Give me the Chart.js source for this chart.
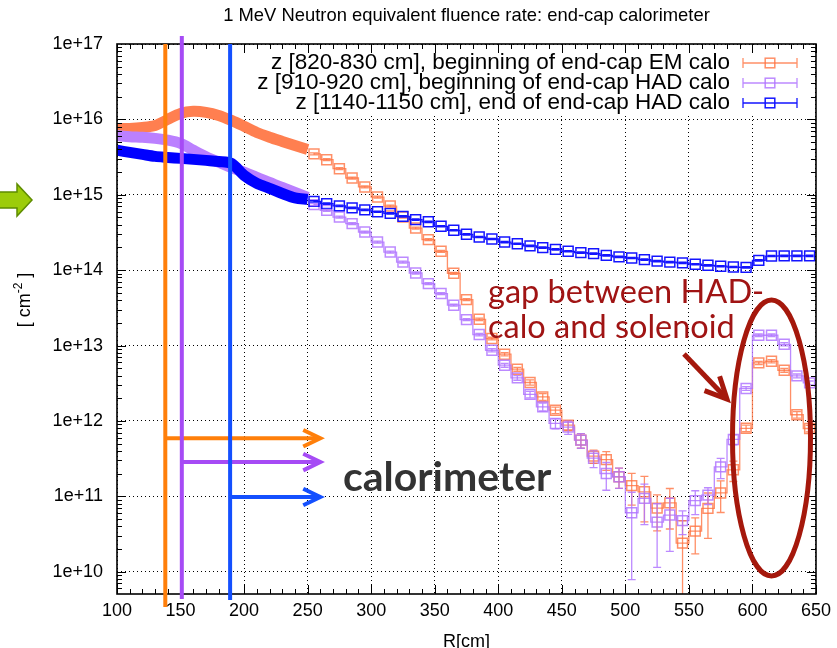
<!DOCTYPE html>
<html>
<head>
<meta charset="utf-8">
<script src="https://cdn.jsdelivr.net/npm/chart.js@4.4.0/dist/chart.umd.min.js"></script>
<style>
  html, body { margin: 0; padding: 0; background: #fff; }
</style>
</head>
<body>
<canvas id="c" width="837" height="648"></canvas>
<script>
// fine-binned region (drawn as a thick band), R in cm
const thickR = [100, 110, 120, 130, 140, 150, 160, 170, 180, 190, 200, 210, 220, 230, 240, 250];
const emThick  = [7.6e15, 7.6e15, 7.8e15, 8.3e15, 1.0e16, 1.2e16, 1.28e16, 1.24e16, 1.13e16, 9.7e15, 8.1e15, 6.7e15, 5.8e15, 5.1e15, 4.5e15, 4.0e15];
const hadThick = [6.1e15, 5.9e15, 5.8e15, 5.6e15, 5.3e15, 4.8e15, 3.9e15, 3.2e15, 2.7e15, 2.3e15, 2.0e15, 1.7e15, 1.46e15, 1.25e15, 1.08e15, 9.25e14];
const endThick = [3.9e15, 3.65e15, 3.43e15, 3.23e15, 3.13e15, 3.04e15, 2.95e15, 2.86e15, 2.77e15, 2.61e15, 1.81e15, 1.42e15, 1.22e15, 1.04e15, 9.1e14, 8.7e14];

// 10 cm histogram bins, bin centres
const binR = [255, 265, 275, 285, 295, 305, 315, 325, 335, 345,
              355, 365, 375, 385, 395, 405, 415, 425, 435, 445,
              455, 465, 475, 485, 495, 505, 515, 525, 535, 545,
              555, 565, 575, 585, 595, 605, 615, 625, 635, 645];
const emHist = [3.49e15, 2.92e15, 2.22e15, 1.67e15, 1.27e15, 9.33e14, 7.09e14, 5.07e14, 3.62e14, 2.54e14,
                1.78e14, 9.1e13, 4.07e13, 2.23e13, 1.24e13, 7.68e12, 4.86e12, 3.24e12, 2.09e12, 1.39e12,
                8.8e11, 5.57e11, 3.42e11, 3.07e11, 1.82e11, 1.39e11, 1.15e11, 6.99e10, 8.2e10, 2.4e10,
                3.46e10, 6.93e10, 1.11e11, 2.25e11, 8.0e11, 5.89e12, 6.2e12, 4.71e12, 1.21e12, 7.95e11];
const hadHist = [7.4e14, 6.22e14, 5.07e14, 4.14e14, 3.21e14, 2.36e14, 1.74e14, 1.28e14, 9.18e13, 6.64e13,
                 4.9e13, 3.43e13, 2.21e13, 1.4e13, 8.67e12, 5.49e12, 3.73e12, 2.25e12, 1.54e12, 9.27e11,
                 8.28e11, 5.57e11, 3.21e11, 2.01e11, 1.82e11, 6.06e10, 9.4e10, 4.56e10, 5.65e10, 4.77e10,
                 8.79e10, 1.04e11, 2.46e11, 5.69e11, 2.7e12, 1.37e13, 1.37e13, 1.04e13, 3.96e12, 3.2e12];
const endHist = [8.18e14, 7.63e14, 7.13e14, 6.71e14, 6.31e14, 5.97e14, 5.67e14, 5.18e14, 4.68e14, 4.38e14,
                 3.82e14, 3.38e14, 2.99e14, 2.75e14, 2.59e14, 2.36e14, 2.24e14, 2.1e14, 1.99e14, 1.89e14,
                 1.78e14, 1.71e14, 1.66e14, 1.57e14, 1.5e14, 1.45e14, 1.38e14, 1.32e14, 1.28e14, 1.25e14,
                 1.2e14, 1.16e14, 1.13e14, 1.1e14, 1.09e14, 1.35e14, 1.54e14, 1.55e14, 1.55e14, 1.55e14];
// relative errors
const emErr = [0.03, 0.03, 0.03, 0.03, 0.03, 0.03, 0.03, 0.03, 0.03, 0.03,
               0.03, 0.03, 0.03, 0.04, 0.04, 0.05, 0.06, 0.08, 0.1, 0.1,
               0.15, 0.22, 0.2, 0.28, 0.3, 0.45, 0.6, 0.5, 0.55, 0.98,
               0.5, 0.6, 0.45, 0.3, 0.1, 0.05, 0.05, 0.06, 0.1, 0.1];
const hadErr = [0.03, 0.03, 0.03, 0.03, 0.03, 0.03, 0.03, 0.03, 0.03, 0.03,
                0.03, 0.03, 0.03, 0.04, 0.05, 0.06, 0.07, 0.1, 0.12, 0.15,
                0.2, 0.22, 0.25, 0.4, 0.3, 0.87, 0.55, 0.75, 0.67, 0.35,
                0.35, 0.25, 0.3, 0.15, 0.06, 0.04, 0.04, 0.05, 0.06, 0.06];
const endErr = [0.02, 0.02, 0.02, 0.02, 0.02, 0.02, 0.02, 0.02, 0.02, 0.02,
                0.02, 0.02, 0.02, 0.02, 0.02, 0.02, 0.02, 0.02, 0.02, 0.02,
                0.02, 0.02, 0.02, 0.02, 0.02, 0.02, 0.02, 0.02, 0.02, 0.02,
                0.02, 0.02, 0.02, 0.02, 0.02, 0.02, 0.02, 0.02, 0.02, 0.02];

const seriesNames = [
  'z [820-830 cm], beginning of end-cap EM calo',
  'z [910-920 cm], beginning of end-cap HAD calo',
  'z [1140-1150 cm], end of end-cap HAD calo'
];
const yDecades = [1e10, 1e11, 1e12, 1e13, 1e14, 1e15, 1e16, 1e17];

// calorimeter boundaries (vertical lines) and arrows
const edgeR = [138, 151, 189];
const arrowFlux = [5.9e11, 2.85e11, 9.8e10];
const arrowEndR = 260;

const histColors = ['rgba(255,115,65,0.8)', 'rgba(176,118,255,0.85)', '#1414ff'];
const thickColors = ['#ff7f50', '#bb80ff', '#0000ff'];
const edgeColors = ['#ff7f0a', '#a64bf5', '#1450ff'];

const pts = (xs, ys) => xs.map((x, i) => ({ x: x, y: ys[i] }));

function thickSet(ys, c, order) {
  return { data: pts(thickR, ys), borderColor: c, borderWidth: 11, pointRadius: 0,
           borderCapStyle: 'butt', tension: 0.3, clip: 0, order: order };
}
function histSet(ys, err, c, order) {
  return { data: pts(binR, ys), err: err, borderColor: c, borderWidth: 1.3, stepped: 'middle',
           pointStyle: 'rect', pointRadius: 7, pointBorderWidth: 1.5, pointBorderColor: c,
           pointBackgroundColor: 'rgba(0,0,0,0)', clip: 0, order: order };
}

function arrow(ctx, x1, y1, x2, y2, color, w, len) {
  const a = Math.atan2(y2 - y1, x2 - x1);
  ctx.save();
  ctx.strokeStyle = color; ctx.lineWidth = w; ctx.lineCap = 'butt'; ctx.lineJoin = 'miter';
  ctx.beginPath(); ctx.moveTo(x1, y1); ctx.lineTo(x2 - Math.cos(a) * w * 0.6, y2 - Math.sin(a) * w * 0.6); ctx.stroke();
  ctx.beginPath();
  ctx.moveTo(x2 - len * Math.cos(a - 0.45), y2 - len * Math.sin(a - 0.45));
  ctx.lineTo(x2, y2);
  ctx.lineTo(x2 - len * Math.cos(a + 0.45), y2 - len * Math.sin(a + 0.45));
  ctx.stroke();
  ctx.restore();
}

const decor = {
  id: 'decor',
  beforeDatasetsDraw(chart) {
    // opaque key box
    const { ctx, chartArea: a } = chart;
    ctx.save();
    ctx.fillStyle = '#fff';
    ctx.fillRect(238, a.top + 1, a.right - 240, 68);
    ctx.restore();
  },
  afterDatasetsDraw(chart) {
    const { ctx, chartArea: a, scales: { x, y } } = chart;
    ctx.save();
    ctx.beginPath(); ctx.rect(a.left, a.top, a.right - a.left, a.bottom - a.top); ctx.clip();
    chart.data.datasets.forEach(ds => {
      if (!ds.err) return;
      ctx.strokeStyle = ds.borderColor; ctx.lineWidth = 1.3;
      ds.data.forEach((p, i) => {
        const e = ds.err[i];
        const px = x.getPixelForValue(p.x);
        const top = y.getPixelForValue(p.y * (1 + e));
        const bot = p.y * (1 - e) > 0 ? y.getPixelForValue(p.y * (1 - e)) : a.bottom + 5;
        ctx.beginPath();
        ctx.moveTo(px, top); ctx.lineTo(px, bot);
        ctx.moveTo(px - 4, top); ctx.lineTo(px + 4, top);
        ctx.moveTo(px - 4, bot); ctx.lineTo(px + 4, bot);
        ctx.stroke();
      });
    });
    ctx.restore();
  },
  afterDraw(chart) {
    const { ctx, chartArea: a, scales: { x, y } } = chart;
    ctx.save();
    // ticks (inward, all sides)
    ctx.strokeStyle = '#000'; ctx.lineWidth = 1;
    ctx.beginPath();
    for (let r = 100; r <= 650; r += 10) {
      const px = Math.round(x.getPixelForValue(r)) + 0.5;
      const L = r % 50 === 0 ? 9 : 5;
      ctx.moveTo(px, a.bottom); ctx.lineTo(px, a.bottom - L);
      ctx.moveTo(px, a.top); ctx.lineTo(px, a.top + L);
    }
    for (let d = 9; d <= 16; d++) {
      for (let m = 1; m <= 9; m++) {
        const v = m * Math.pow(10, d);
        if (v < y.min || v > y.max) continue;
        const py = Math.round(y.getPixelForValue(v)) + 0.5;
        const L = m === 1 ? 9 : 5;
        ctx.moveTo(a.left, py); ctx.lineTo(a.left + L, py);
        ctx.moveTo(a.right, py); ctx.lineTo(a.right - L, py);
      }
    }
    ctx.stroke();
    // frame
    ctx.lineWidth = 1.6;
    ctx.strokeRect(a.left, a.top, a.right - a.left, a.bottom - a.top);

    // legend
    ctx.font = '22.5px "Liberation Sans", Arial, sans-serif';
    ctx.fillStyle = '#000'; ctx.textAlign = 'right'; ctx.textBaseline = 'middle';
    seriesNames.forEach((name, i) => {
      const ly = 63 + i * 20;
      ctx.fillText(name, 730, ly);
      ctx.strokeStyle = histColors[i]; ctx.lineWidth = 1.3;
      ctx.beginPath();
      ctx.moveTo(743, ly); ctx.lineTo(797, ly);
      ctx.moveTo(743, ly - 5); ctx.lineTo(743, ly + 5);
      ctx.moveTo(797, ly - 5); ctx.lineTo(797, ly + 5);
      ctx.stroke();
      ctx.lineWidth = 1.5;
      ctx.strokeRect(770 - 4.8, ly - 4.8, 9.6, 9.6);
    });

    // title
    ctx.textAlign = 'center'; ctx.textBaseline = 'alphabetic';
    ctx.font = '18.4px "Liberation Sans", Arial, sans-serif';
    ctx.fillText('1 MeV Neutron equivalent fluence rate: end-cap calorimeter', (a.left + a.right) / 2, 21);
    // x title
    ctx.font = '18px "Liberation Sans", Arial, sans-serif';
    ctx.fillText('R[cm]', (a.left + a.right) / 2, 647);
    // y title with superscript
    ctx.save();
    ctx.translate(30, 300); ctx.rotate(-Math.PI / 2);
    ctx.textAlign = 'left';
    const f1 = '18px "Liberation Sans", Arial, sans-serif', f2 = '12px "Liberation Sans", Arial, sans-serif';
    ctx.font = f1; const w1 = ctx.measureText('[ cm').width, w3 = ctx.measureText(' ]').width;
    ctx.font = f2; const w2 = ctx.measureText('-2').width;
    let tx = -(w1 + w2 + w3) / 2;
    ctx.font = f1; ctx.fillText('[ cm', tx, 0); tx += w1;
    ctx.font = f2; ctx.fillText('-2', tx, -8); tx += w2;
    ctx.font = f1; ctx.fillText(' ]', tx, 0);
    ctx.restore();

    // calorimeter boundaries
    const tops = [a.top, a.top - 8, a.top];
    const bots = [a.bottom + 13, a.bottom + 5, a.bottom + 6];
    edgeR.forEach((r, i) => {
      const px = x.getPixelForValue(r);
      ctx.strokeStyle = edgeColors[i]; ctx.lineWidth = 4;
      ctx.beginPath(); ctx.moveTo(px, tops[i]); ctx.lineTo(px, bots[i]); ctx.stroke();
      const py = y.getPixelForValue(arrowFlux[i]);
      arrow(ctx, px, py, x.getPixelForValue(arrowEndR), py, edgeColors[i], 4, 19);
    });

    // calorimeter label
    ctx.textAlign = 'left';
    ctx.fillStyle = '#333';
    ctx.font = 'bold 41px Lato, "Open Sans", sans-serif';
    ctx.fillText('calorimeter', 343, 491);

    // gap annotation
    ctx.fillStyle = '#a01414';
    ctx.font = '32.5px Lato, "Open Sans", sans-serif';
    ctx.fillText('gap between HAD-', 488, 303);
    ctx.fillText('calo and solenoid', 488, 338);
    ctx.strokeStyle = '#a5180c'; ctx.lineWidth = 5;
    ctx.beginPath(); ctx.ellipse(771.5, 438, 39, 138, 0, 0, Math.PI * 2); ctx.stroke();
    arrow(ctx, 684, 354, 727, 399, '#a5180c', 5, 24);

    // green pointer arrow left of the axis
    ctx.fillStyle = '#9ccc0a'; ctx.strokeStyle = '#5e8c00'; ctx.lineWidth = 1.5;
    ctx.beginPath();
    ctx.moveTo(-2, 192); ctx.lineTo(17, 192); ctx.lineTo(17, 184); ctx.lineTo(32, 200);
    ctx.lineTo(17, 216); ctx.lineTo(17, 208); ctx.lineTo(-2, 208); ctx.closePath();
    ctx.fill(); ctx.stroke();
    ctx.restore();
  }
};

const tickFont = { family: '"Liberation Sans", Arial, sans-serif', size: 18 };

new Chart(document.getElementById('c'), {
  type: 'line',
  data: {
    datasets: [
      thickSet(emThick, thickColors[0], 6),
      thickSet(hadThick, thickColors[1], 5),
      thickSet(endThick, thickColors[2], 4),
      histSet(emHist, emErr, histColors[0], 3),
      histSet(hadHist, hadErr, histColors[1], 2),
      histSet(endHist, endErr, histColors[2], 1)
    ]
  },
  options: {
    responsive: false,
    animation: false,
    layout: { padding: { top: 44, right: 17, left: 0, bottom: 0 } },
    plugins: { legend: { display: false }, tooltip: { enabled: false }, title: { display: false } },
    scales: {
      x: {
        type: 'linear', min: 100, max: 650,
        afterFit: s => { s.height = 54; },
        ticks: { stepSize: 50, font: tickFont, color: '#000', padding: 6, maxRotation: 0, autoSkip: false },
        grid: { color: '#000', lineWidth: 1, drawTicks: false },
        border: { display: false, dash: [1, 3] }
      },
      y: {
        type: 'logarithmic', min: 5.07e9, max: 1e17,
        afterFit: s => { s.width = 117; },
        afterBuildTicks: s => { s.ticks = yDecades.map(v => ({ value: v, major: true })); },
        ticks: { font: tickFont, color: '#000', padding: 14,
                 callback: v => '1e+' + Math.round(Math.log10(v)) },
        grid: { color: '#000', lineWidth: 1, drawTicks: false },
        border: { display: false, dash: [1, 3] }
      }
    }
  },
  plugins: [decor]
});
</script>
</body>
</html>
